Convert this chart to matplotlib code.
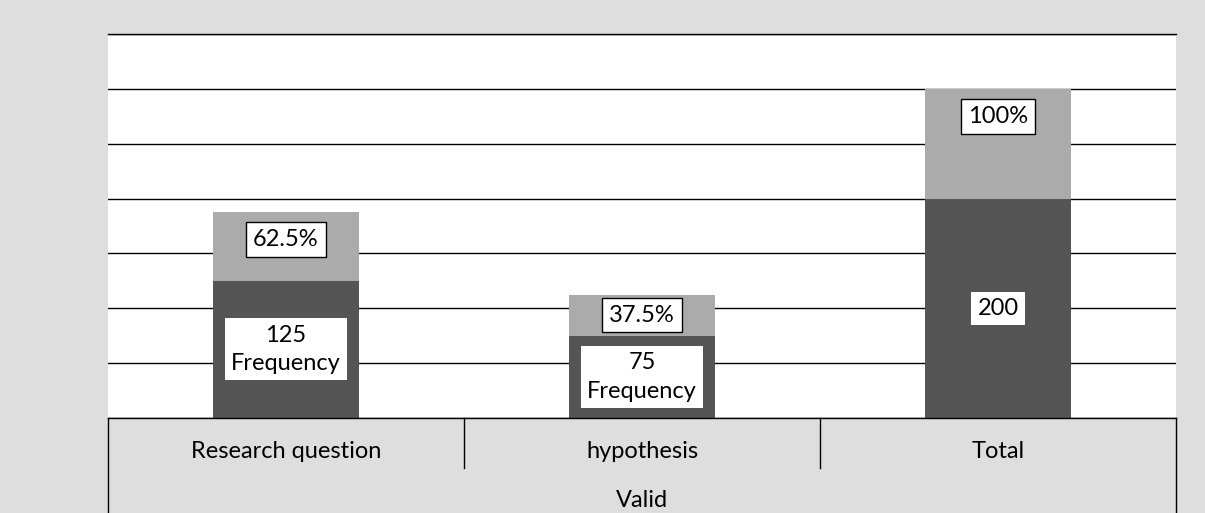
import matplotlib.pyplot as plt

# ------------------------------------------------------------
# Data
# ------------------------------------------------------------
categories = ["Research question", "hypothesis", "Total"]
frequency = [125, 75, 200]
percent = [62.5, 37.5, 100]
freq_labels = ["125\nFrequency", "75\nFrequency", "200"]
pct_labels = ["62.5%", "37.5%", "100%"]
group_label = "Valid"

plt.rcParams["font.family"] = ["Lato", "DejaVu Sans"]

BG = "#dedede"
DARK = "#555555"
LIGHT = "#ababab"
FS = 17

fig = plt.figure(figsize=(12.05, 5.13), dpi=100, facecolor=BG)
ax = fig.add_axes([108 / 1205, 95 / 513, 1068 / 1205, 384 / 513])
ax.set_facecolor("white")

x = list(range(len(categories)))
ax.bar(x, frequency, width=0.41, color=DARK, zorder=2)
ax.bar(x, percent, bottom=frequency, width=0.41, color=LIGHT, zorder=2)

# labels
for i in x:
    ax.text(i, frequency[i] / 2, freq_labels[i], ha="center", va="center",
            fontsize=FS, zorder=4, linespacing=1.45,
            bbox=dict(facecolor="white", edgecolor="none", pad=4.5))
    top = frequency[i] + percent[i]
    y = max(frequency[i] + percent[i] / 2, top - 25)
    ax.text(i, y, pct_labels[i], ha="center", va="center", fontsize=FS, zorder=4,
            bbox=dict(facecolor="white", edgecolor="black", linewidth=1, pad=5))

ax.set_xlim(-0.5, 2.5)
ax.set_ylim(0, 350)
ax.set_yticks(range(0, 351, 50))
ax.yaxis.grid(True, color="black", linewidth=1, zorder=0)
ax.set_axisbelow(True)
ax.tick_params(left=False, labelleft=False, bottom=False, labelbottom=False)
for s in ["left", "right", "bottom"]:
    ax.spines[s].set_visible(False)
ax.spines["top"].set_linewidth(1)

# category table below the plot
tr = ax.get_xaxis_transform()
ax.plot([-0.5, 2.5], [0, 0], color="black", linewidth=1, transform=tr, clip_on=False)
for xs in [-0.5, 2.5]:
    ax.plot([xs, xs], [0, -0.26], color="black", linewidth=1, transform=tr, clip_on=False)
for xs in [0.5, 1.5]:
    ax.plot([xs, xs], [0, -0.13], color="black", linewidth=1, transform=tr, clip_on=False)
for i, c in enumerate(categories):
    ax.text(i, -0.086, c, ha="center", va="center", fontsize=FS, transform=tr)
ax.text(1, -0.216, group_label, ha="center", va="center", fontsize=FS, transform=tr)

fig.savefig("out.png", dpi=100, facecolor=BG)
